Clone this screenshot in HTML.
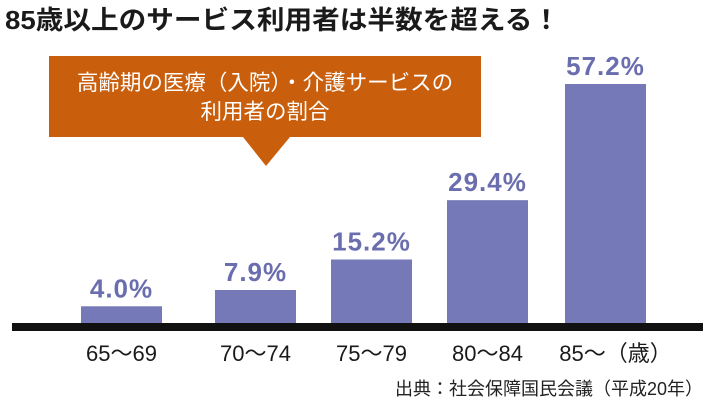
<!DOCTYPE html>
<html><head><meta charset="utf-8"><style>
body{margin:0;background:#fff;width:710px;height:403px;overflow:hidden;font-family:"Liberation Sans","Noto Sans CJK JP",sans-serif}
svg{display:block}
</style></head><body>
<svg width="710" height="403" id="c">
<text x="5" y="29" font-size="26" font-weight="bold" fill="#1a1a1a" font-family="Liberation Sans,Noto Sans CJK JP,sans-serif" textLength="555" lengthAdjust="spacingAndGlyphs">85歳以上のサービス利用者は半数を超える！</text>
<g>
<rect x="49" y="56" width="432" height="81" fill="#c95f0d"/>
<polygon points="243,137 290,137 266,166" fill="#c95f0d"/>
<text x="265" y="90" text-anchor="middle" font-size="21.5" fill="#fff">高齢期の医療（入院）・介護サービスの</text>
<text x="265" y="119" text-anchor="middle" font-size="21.5" fill="#fff">利用者の割合</text>
</g>
<g id="bars"></g>
<rect x="12" y="323" width="691" height="8" fill="#111"/>
<text x="703" y="395" text-anchor="end" font-size="18" fill="#222">出典：社会保障国民会議（平成20年）</text>
</svg>
<script>
const categories=["65〜69","70〜74","75〜79","80〜84","85〜（歳）"];
const values=[4.0,7.9,15.2,29.4,57.2];
const valueLabels=["4.0%","7.9%","15.2%","29.4%","57.2%"];
const ns="http://www.w3.org/2000/svg";
const g=document.getElementById("bars");
const base=323, pxPer=239/57.2;
const y=v=>base-v*pxPer;
const barX=[81,215,331,447,565]; const bw=81;
categories.forEach((c,i)=>{
  const r=document.createElementNS(ns,"rect");
  r.setAttribute("x",barX[i]);r.setAttribute("y",y(values[i]));
  r.setAttribute("width",bw);r.setAttribute("height",base-y(values[i]));
  r.setAttribute("fill","#7579b8");
  
  
  g.appendChild(r);
  const t=document.createElementNS(ns,"text");
  t.setAttribute("x",barX[i]+bw/2);t.setAttribute("y",y(values[i])-9);
  t.setAttribute("text-anchor","middle");t.setAttribute("font-size","26");
  t.setAttribute("font-weight","bold");t.setAttribute("fill","#6a6eae");
  t.setAttribute("letter-spacing","1");
  t.textContent=valueLabels[i];
  
  
  g.appendChild(t);
  const l=document.createElementNS(ns,"text");
  l.setAttribute("x",i==4?barX[i]+bw/2+10:barX[i]+bw/2);l.setAttribute("y",361);
  l.setAttribute("text-anchor","middle");l.setAttribute("font-size","22");l.setAttribute("fill","#1a1a1a");
  l.textContent=c;
  
  
  g.appendChild(l);
});
</script>
</body></html>
